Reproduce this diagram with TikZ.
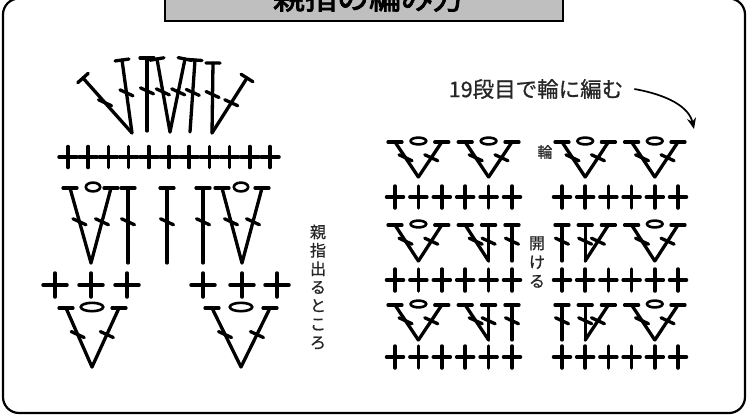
\documentclass[tikz,border=0pt]{standalone}
\usepackage{fontspec}
\newfontfamily\jp[FakeBold=0.8]{Noto Sans CJK JP}
\newfontfamily\jpb[FakeBold=2.5]{Noto Sans CJK JP}
\usetikzlibrary{calc,arrows.meta}
\tikzset{
  st/.style={line width=3.3pt, line cap=round},
  crossst/.style={line width=3.5pt, line cap=round},
  ovalst/.style={line width=2.6pt, fill=white},
  frame/.style={line width=2.2pt, rounded corners=16pt},
  titlebox/.style={line width=2pt, fill=black!25},
  lbl/.style={inner sep=0pt, text=black!85},
}
% double crochet with horizontal top bar: {bottom}{top}
\newcommand\dcv[2]{%
  \draw[st] (#1) -- (#2);
  \draw[st] (#2) ++(-7,0) -- ++(14,0);
  \path (#2) -- (#1) coordinate[pos=0.45] (sl);
  \draw[st] (sl) ++(-6.5,-3) -- ++(13,6);
}
% double crochet with bar perpendicular to the stem
\newcommand\dcf[2]{%
  \draw[st] (#1) -- (#2);
  \draw[st] ($(#2)!7pt!90:(#1)$) -- ($(#2)!7pt!-90:(#1)$);
  \path (#2) -- (#1) coordinate[pos=0.45] (sl);
  \draw[st] (sl) ++(-6.5,-3) -- ++(13,6);
}
% single crochet cross: x, y, half width, half height
\newcommand\scx[4]{%
  \draw[crossst] (#1-#3,#2) -- (#1+#3,#2) (#1,#2-#4) -- (#1,#2+#4);
}
% chain oval: centre, rx, ry
\newcommand\ovl[3]{%
  \draw[ovalst] (#1) ellipse [x radius=#2, y radius=#3];
}
\newcommand\midrow[2]{%
  \dcv{418.4,#2}{395,#1}\dcv{418.4,#2}{441.8,#1}\ovl{418.4,#1-1}{7.8}{3.4}
  \dcv{488.6,#2}{465.2,#1}\dcv{488.6,#2}{488.6,#1}\dcv{512,#2}{512,#1}
  \dcv{562,#2}{562,#1}\dcv{585.2,#2}{585.2,#1}\dcv{585.2,#2}{608.4,#1}
  \dcv{654.8,#2}{631.6,#1}\dcv{654.8,#2}{678,#1}\ovl{654.8,#1-1}{7.8}{3.4}
}
\begin{document}
\begin{tikzpicture}[x=1pt,y=-1pt]
\useasboundingbox (0,0) rectangle (748,416);
\clip (0,0) rectangle (748,416);
% frame and title
\draw[frame] (3,-1.5) rectangle (745,413);
\draw[titlebox] (165,-40) rectangle (563,21);
\node[lbl, anchor=base, font=\jpb\fontsize{32}{32}\selectfont, text=black] (title) at (369,9) {親指の編み方};

% ---------- left part ----------
% fan
\dcf{132,133}{83,78}
\dcf{132,133}{122,60}
\dcf{147,131}{147,58}
\dcf{170,132}{157,59}
\dcf{170,132}{185,59}
\dcf{190,132}{195,60}
\dcf{212,133}{213,63}
\dcf{212,133}{247,78}
% row of 11 single crochets
\foreach \k in {0,...,10} {\scx{68+20.2*\k}{157}{9}{10.5}}
% row C
\dcv{91,263}{70,188}\dcv{91,263}{111,188}\ovl{93,187}{7.2}{4.4}
\dcv{128,263}{128,188}\dcv{167,263}{167,188}\dcv{203,263}{203,188}
\dcv{242,263}{222,188}\dcv{242,263}{262,188}\ovl{241,187}{7.2}{4.4}
% row D
\foreach \x in {55,91,127,203,242,277} {\scx{\x}{285}{12}{12}}
% row E
\dcv{92,367}{66,308}\dcv{92,367}{119,308}\ovl{92,307}{11.2}{4.2}
\dcv{241,367}{212,308}\dcv{241,367}{270,308}\ovl{241,307}{11.2}{4.2}
\node[lbl, align=center, font=\jp\fontsize{16}{18.4}\selectfont] (thumb) at (318,287) {親\\指\\出\\る\\と\\こ\\ろ};

% ---------- right part ----------
\node[lbl, font=\jp\fontsize{21.5}{21.5}\selectfont] (note) at (536,89) {19段目で輪に編む};
\coordinate (arrEnd) at (694,129);
\draw[line width=1.7pt, -{Stealth[length=11pt,width=9pt]}] ([xshift=11pt]note.east) .. controls (668,95) and (689,107) .. (arrEnd);
% row R1
\dcv{418.4,177}{395,142}\dcv{418.4,177}{441.8,142}\ovl{418.4,141}{7.8}{3.4}
\dcv{488.6,177}{465.2,142}\dcv{488.6,177}{512,142}\ovl{488.6,141}{7.8}{3.4}
\dcv{585.2,177}{562,142}\dcv{585.2,177}{608.4,142}\ovl{585.2,141}{7.8}{3.4}
\dcv{654.8,177}{631.6,142}\dcv{654.8,177}{678,142}\ovl{654.8,141}{7.8}{3.4}
\node[lbl, font=\jp\fontsize{15}{15}\selectfont] (ring) at (545,152) {輪};
% rows R3, R5
\midrow{225}{261}
\midrow{305}{340}
% single crochet rows
\foreach \y in {197,280,357} {
  \foreach \x in {395,418.4,441.8,465.2,488.6,512,562,585.2,608.4,631.6,654.8,678} {\scx{\x}{\y}{8.5}{11}}
}
\node[lbl, align=center, font=\jp\fontsize{16}{19}\selectfont] (open) at (537,262) {開\\け\\る};
\end{tikzpicture}
\end{document}
